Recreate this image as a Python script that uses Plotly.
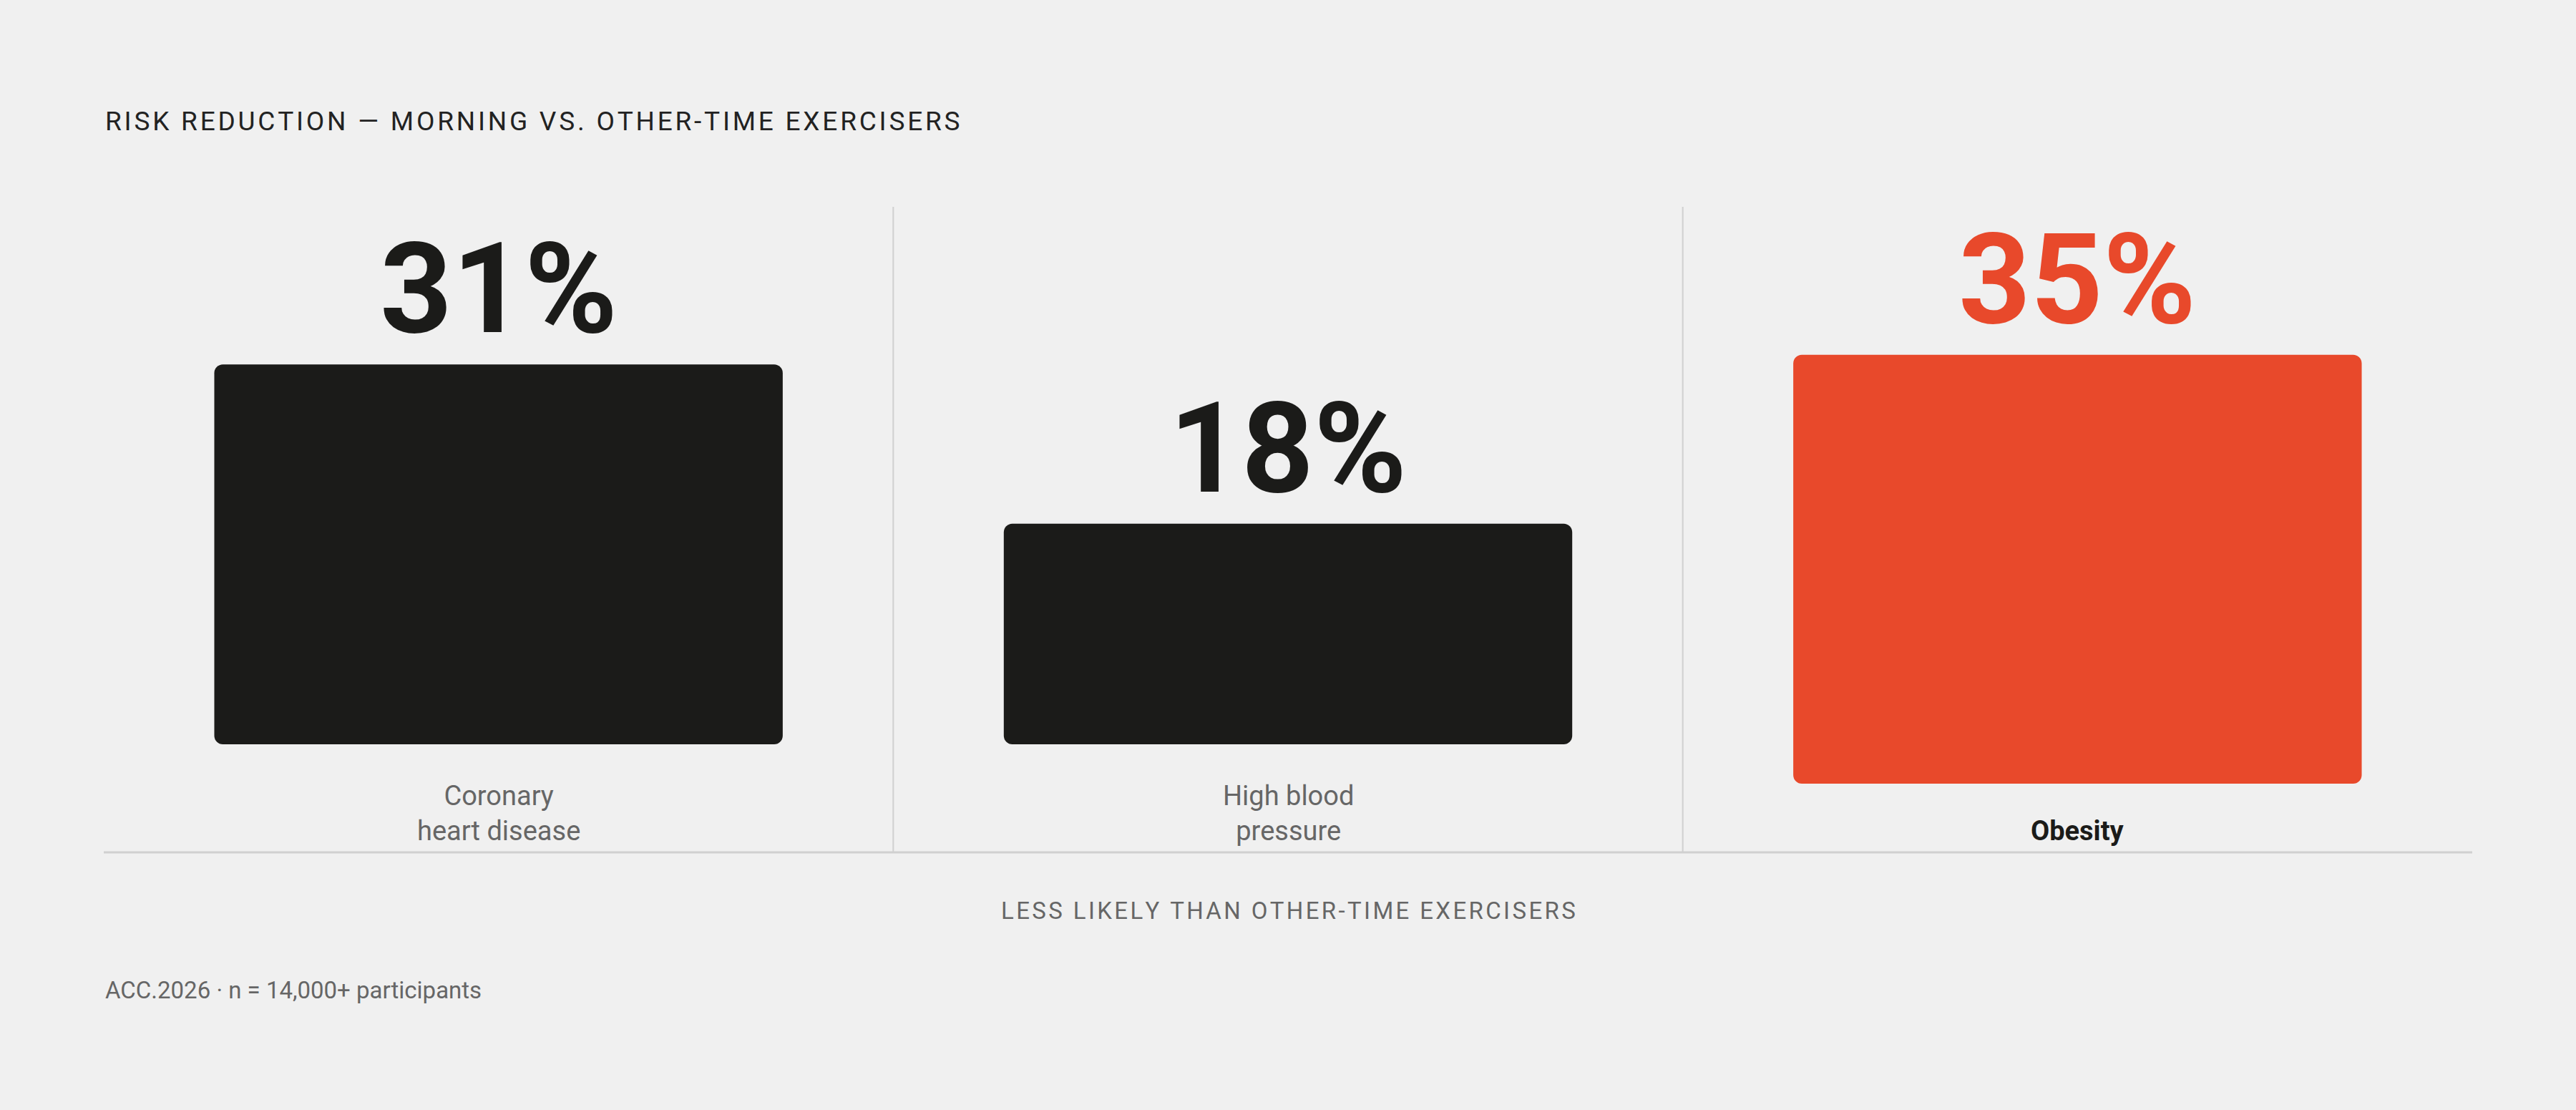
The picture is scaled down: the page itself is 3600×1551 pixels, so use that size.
import plotly.graph_objects as go

# --- data ---
categories = ["Coronary heart disease", "High blood pressure", "Obesity"]
label_text = ["Coronary<br>heart disease", "High blood<br>pressure", "<b>Obesity</b>"]
values = [31, 18, 35]
value_labels = ["31%", "18%", "35%"]
highlight = [False, False, True]

title_text = "RISK REDUCTION — MORNING VS. OTHER-TIME EXERCISERS"
axis_note = "LESS LIKELY THAN OTHER-TIME EXERCISERS"
source_note = "ACC.2026 · n = 14,000+ participants"

# --- look ---
W, H = 3600, 1551
BG = "#f0f0f0"
INK = "#1b1b19"
RED = "#e8492b"
GREY = "#666666"
RULE = "#d0d0d0"
FONT = "Roboto"

PX_PER_UNIT = 17.12          # pixel height of one percentage point
ZERO_PX = 1040               # pixel row of the bar base (two-line labels)
LINE_PX = 55                 # one label line
y_min = -(H - ZERO_PX) / PX_PER_UNIT
y_max = ZERO_PX / PX_PER_UNIT

x_dom = [145 / W, 3455 / W]


def spaced(s, sep="\u200a"):
    # fake letter-spacing with hair spaces
    return sep.join(s)


def py(px):
    # pixel row (from top) -> paper y
    return 1 - px / H


# bars with one-line labels sit one line lower
bases = [-(2 - t.count("<br>") - 1) * LINE_PX / PX_PER_UNIT for t in label_text]
colors = [RED if h else INK for h in highlight]

fig = go.Figure()
fig.add_trace(go.Bar(
    x=categories,
    y=values,
    base=bases,
    width=0.72,
    marker=dict(color=colors, cornerradius=12, line=dict(width=0)),
    hoverinfo="skip",
))

annotations = []
for cat, v, b, lab, txt, c, h in zip(categories, values, bases, value_labels, label_text, colors, highlight):
    # big percent above each bar
    annotations.append(dict(
        x=cat, y=b + v, xref="x", yref="y",
        text=f"<b>{lab}</b>", showarrow=False,
        yanchor="bottom", yshift=0,
        font=dict(family=FONT, size=176, color=c),
    ))
    # category label sitting on the baseline rule
    annotations.append(dict(
        x=cat, y=py(1191), xref="x", yref="paper",
        text=txt, showarrow=False,
        yanchor="bottom", yshift=6, align="center",
        font=dict(family=FONT, size=38, color=INK if h else GREY),
    ))

annotations.append(dict(
    x=x_dom[0], y=py(170), xref="paper", yref="paper",
    text=spaced(title_text), showarrow=False,
    xanchor="left", yanchor="middle",
    font=dict(family=FONT, size=37, color="#222222"),
))
annotations.append(dict(
    x=(x_dom[0] + x_dom[1]) / 2, y=py(1272), xref="paper", yref="paper",
    text=spaced(axis_note), showarrow=False,
    xanchor="center", yanchor="middle",
    font=dict(family=FONT, size=33, color=GREY),
))
annotations.append(dict(
    x=x_dom[0], y=py(1383), xref="paper", yref="paper",
    text=source_note, showarrow=False,
    xanchor="left", yanchor="middle",
    font=dict(family=FONT, size=33, color=GREY),
))

shapes = []
# column dividers
for xd in [0.5, 1.5]:
    shapes.append(dict(
        type="line", xref="x", yref="paper",
        x0=xd, x1=xd, y0=py(1192), y1=py(289),
        line=dict(color=RULE, width=2),
    ))
# baseline rule
shapes.append(dict(
    type="line", xref="paper", yref="paper",
    x0=x_dom[0], x1=x_dom[1], y0=py(1191), y1=py(1191),
    line=dict(color=RULE, width=3),
))

fig.update_layout(
    width=W, height=H,
    margin=dict(l=0, r=0, t=0, b=0),
    paper_bgcolor=BG, plot_bgcolor=BG,
    showlegend=False,
    xaxis=dict(domain=x_dom, range=[-0.5, 2.5], visible=False, fixedrange=True),
    yaxis=dict(domain=[0, 1], range=[y_min, y_max], visible=False, fixedrange=True),
    annotations=annotations,
    shapes=shapes,
    font=dict(family=FONT),
)

# drop the default page margin so the figure sits at the window corner
fig.write_html(
    "out.html",
    config={"displayModeBar": False},
    post_script="document.body.style.margin='0';document.body.style.background='%s';" % BG,
)
